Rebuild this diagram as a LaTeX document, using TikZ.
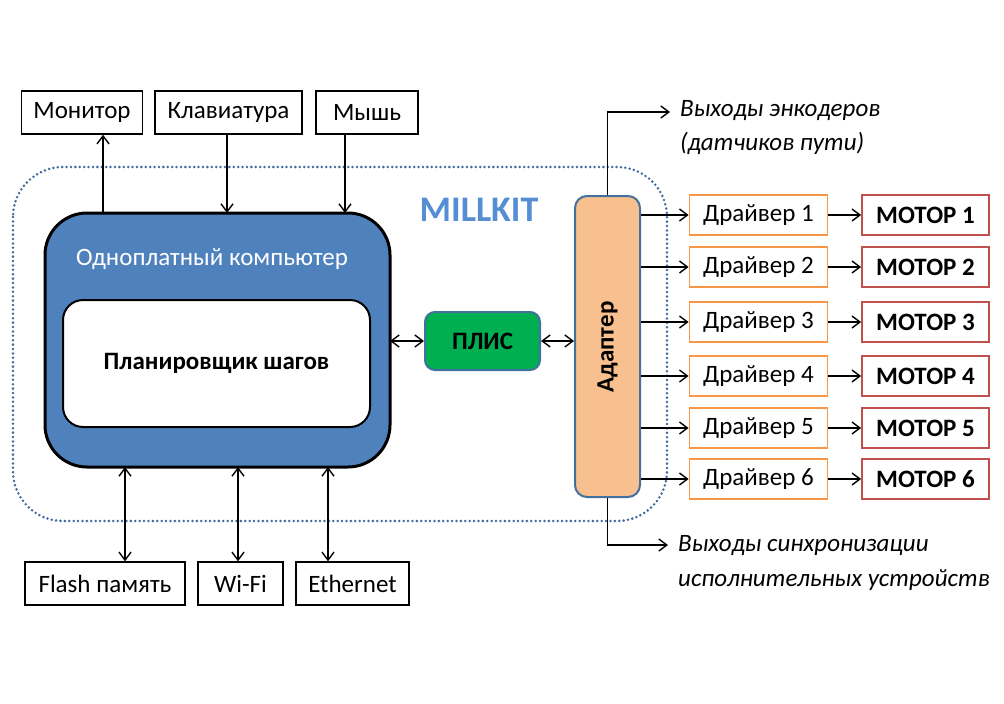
\documentclass[tikz,border=0pt]{standalone}
\usepackage{fontspec}
\setmainfont{Carlito}
\usetikzlibrary{arrows.meta,calc}
\definecolor{pcblue}{HTML}{4F81BD}
\definecolor{bordblue}{HTML}{41719C}
\definecolor{dotblue}{HTML}{3F6A9E}
\definecolor{plisgreen}{HTML}{00B050}
\definecolor{adorange}{HTML}{F9C08F}
\definecolor{drvorange}{HTML}{F79646}
\definecolor{motred}{HTML}{C0504D}
\definecolor{millblue}{HTML}{558ED5}
\tikzset{
  x=1pt,y=-1pt,
  txt/.style={font=\fontsize{25}{29}\selectfont},
  periph/.style={draw=black,line width=1.5pt,minimum height=43pt,inner sep=0pt,txt},
  drvbox/.style={draw=drvorange,line width=1.8pt,minimum width=138pt,minimum height=40pt,inner sep=0pt,txt},
  motbox/.style={draw=motred,line width=1.8pt,minimum width=127pt,minimum height=40pt,inner sep=0pt,font=\fontsize{25}{29}\selectfont\bfseries},
  arr/.style={line width=1.4pt,-{Straight Barb[length=8pt,width=12pt,line width=1.4pt]}},
  darr/.style={line width=1.4pt,{Straight Barb[length=8pt,width=12pt,line width=1.4pt]}-{Straight Barb[length=8pt,width=12pt,line width=1.4pt]}},
  note/.style={font=\fontsize{25}{29}\selectfont\itshape,anchor=west,inner sep=0pt},
}
\begin{document}
\begin{tikzpicture}
\useasboundingbox (0,0) rectangle (1004,704);
% dotted frame
\draw[dotblue,line width=2.8pt,line cap=round,dash pattern=on 0pt off 4.4pt,rounded corners=50pt] (13,167) rectangle (667,521);
\node[font=\fontsize{36}{40}\selectfont\bfseries,text=millblue] (mill) at (479,210) {MILLKIT};
% computer
\draw[fill=pcblue,draw=black,line width=3pt,rounded corners=42pt] (45,213) rectangle (390,467);
\node[txt,text=white] (pclabel) at (212,259) {Одноплатный компьютер};
\node[draw=black,fill=white,line width=2pt,rounded corners=20pt,minimum width=307pt,minimum height=127pt,inner sep=0pt,font=\fontsize{25}{29}\selectfont\bfseries] (plan) at (216.5,363.5) {Планировщик шагов};
% top peripherals
\node[periph,minimum width=121pt] (mon) at (82,112.5) {Монитор};
\node[periph,minimum width=147pt] (kbd) at (228.5,112.5) {Клавиатура};
\node[periph,minimum width=102pt] (mouse) at (367,112.5) {Мышь};
\draw[arr] (103,213) -- (mon.south -| 103,0);
\draw[arr] (kbd.south -| 227,0) -- (227,213);
\draw[arr] (mouse.south -| 345,0) -- (345,213);
% bottom peripherals
\node[periph,minimum width=160pt] (flash) at (105,583.5) {Flash память};
\node[periph,minimum width=85pt] (wifi) at (240.5,583.5) {Wi-Fi};
\node[periph,minimum width=113pt] (eth) at (352.5,583.5) {Ethernet};
\draw[darr] (125,467) -- (flash.north -| 125,0);
\draw[darr] (238,467) -- (wifi.north -| 238,0);
\draw[darr] (328,467) -- (eth.north -| 328,0);
% PLIS
\node[draw=bordblue,fill=plisgreen,line width=2pt,rounded corners=10pt,minimum width=115pt,minimum height=58pt,inner sep=0pt,font=\fontsize{25}{29}\selectfont\bfseries] (plis) at (482.5,341) {ПЛИС};
% adapter
\node[draw=bordblue,fill=adorange,line width=2pt,rounded corners=12pt,minimum width=65pt,minimum height=301pt,inner sep=0pt] (adapt) at (607.5,346.5) {};
\node[rotate=90,font=\fontsize{25}{29}\selectfont\bfseries] (adtext) at (607.5,347) {Адаптер};
\draw[darr] (390,341) -- (plis.west);
\draw[darr] (plis.east) -- (adapt.west |- 0,341);
% outputs
\coordinate (encend) at (670,112);
\coordinate (syncend) at (668,545);
\draw[arr] (adapt.north) |- (encend);
\draw[arr] (adapt.south) |- (syncend);
\node[note] (enc1) at (680,111) {Выходы энкодеров};
\node[note] (enc2) at (680,143) {(датчиков пути)};
\node[note] (syn1) at (678,546) {Выходы синхронизации};
\node[note] (syn2) at (678,580) {исполнительных устройств};
% drivers and motors
\foreach \i/\y in {1/215,2/267,3/322,4/376,5/428,6/479}{
  \node[drvbox] (drv\i) at (758.5,\y) {Драйвер \i};
  \node[motbox] (mot\i) at (925.5,\y) {МОТОР \i};
  \draw[arr] (adapt.east |- drv\i) -- (drv\i.west);
  \draw[arr] (drv\i.east) -- (mot\i.west);
}
\end{tikzpicture}
\end{document}
